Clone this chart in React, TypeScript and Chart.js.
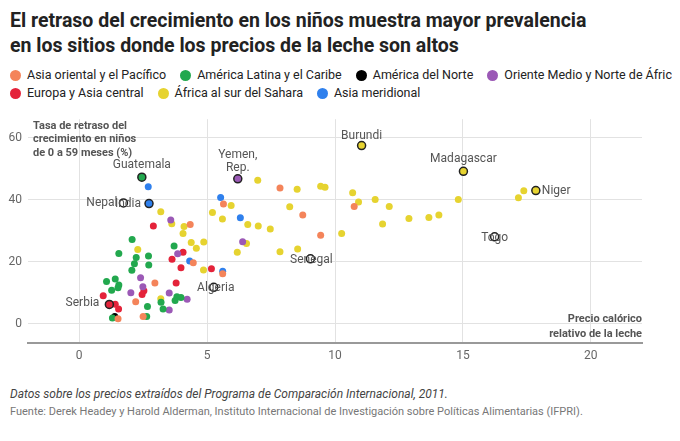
import React, { useEffect, useRef } from "react";
import { Chart, registerables } from "chart.js";
Chart.register(...registerables);

const FONT = "Roboto, 'Noto Sans', sans-serif";

const eastAsia = [[2.96,13.2],[4.46,19.7],[5.61,16.2],[4.34,32.1],[2.21,7.2],[2.5,2.4],[1.52,1.7],[7.85,43.8],[5.64,38.7],[8.74,35.1],[9.44,28.6],[10.75,37.9]];
const latinAmerica = [[2.07,27.2],[1.55,22.7],[2.23,21.4],[2.71,21.9],[2.16,19.4],[2.72,19.0],[2.06,17.3],[3.71,25.1],[1.07,13.7],[1.41,14.5],[1.55,12.6],[1.52,11.7],[1.27,10.9],[3.82,8.8],[3.98,8.5],[3.75,7.6],[3.2,7.0],[2.67,5.6],[3.28,4.8],[2.64,2.4],[1.3,1.9],[2.45,47.3]];
const northAmerica = [[1.39,2.4]];
const mena = [[3.58,33.5],[3.85,22.6],[2.4,14.9],[2.49,12.0],[2.02,10.1],[3.52,10.0],[4.22,8.0],[3.52,4.5],[6.39,26.5],[6.2,46.8]];
const europe = [[2.9,31.6],[4.06,23.1],[3.63,20.9],[3.98,18.1],[5.17,17.8],[3.79,13.2],[2.53,10.7],[2.46,9.5],[0.94,9.1],[1.41,6.4],[1.54,4.8],[1.18,6.3]];
const africa = [[3.19,36.2],[3.62,32.3],[4.1,31.4],[4.06,29.2],[2.29,24.0],[4.38,26.3],[4.87,26.4],[4.58,24.4],[4.86,17.4],[3.19,8.1],[6.98,46.3],[8.52,43.4],[5.94,38.2],[5.21,35.9],[5.6,33.8],[6.59,32.1],[7.0,31.6],[7.47,30.6],[8.23,37.8],[6.54,25.9],[6.18,23.1],[7.85,23.3],[8.54,24.2],[9.44,44.4],[9.61,44.1],[10.26,29.2],[10.69,42.3],[10.92,39.3],[11.57,40.1],[12.12,37.9],[11.86,32.2],[12.89,34.0],[13.67,34.3],[14.06,35.1],[14.82,40.1],[17.17,40.7],[17.38,42.9],[11.04,57.5],[15.02,49.2],[17.85,43.0]];
const southAsia = [[2.7,44.2],[4.32,20.3],[5.61,17.0],[5.53,40.8],[6.3,34.2],[2.73,38.8]];
const unassigned = [[1.73,39.0],[5.26,11.8],[9.04,21.0],[16.24,28.1]];

const regionNames = ["Asia oriental y el Pacífico","América Latina y el Caribe","América del Norte","Oriente Medio y Norte de África","Europa y Asia central","África al sur del Sahara","Asia meridional"];
const regionColors = ["#f4845a","#22a84e","#000000","#9b59b6","#e4233a","#e6d330","#2f80ed"];
const regionData = [eastAsia, latinAmerica, northAmerica, mena, europe, africa, southAsia];

const labels: [string, number, number, number, number, CanvasTextAlign][] = [
  ["Guatemala", 2.45, 47.3, 0, -12, "center"],
  ["Nepal", 1.73, 39.0, 0, 0, "right"],
  ["India", 2.73, 38.8, -2, 0, "right"],
  ["Yemen,", 6.2, 46.8, 0, -24, "center"],
  ["Rep.", 6.2, 46.8, 0, -11, "center"],
  ["Burundi", 11.04, 57.5, 0, -10, "center"],
  ["Madagascar", 15.02, 49.2, 0, -12, "center"],
  ["Niger", 17.85, 43.0, 6, 0, "left"],
  ["Togo", 16.24, 28.1, 0, 1, "center"],
  ["Senegal", 9.04, 21.0, 1, 1, "center"],
  ["Algeria", 5.26, 11.8, 2, 1, "center"],
  ["Serbia", 1.18, 6.3, -4, -1, "right"],
];
const labeledPts = labels.map((l) => l[1] + "," + l[2]);

const xTicks = [0, 5, 10, 15, 20];
const yTicks = [0, 20, 40, 60];

const annot = {
  id: "annot",
  afterDatasetsDraw(chart: any) {
    const { ctx, scales } = chart;
    const xs = scales.x, ys = scales.y;
    ctx.save();
    ctx.font = `12px ${FONT}`;
    ctx.fillStyle = "#555";
    ctx.textBaseline = "middle";
    for (const [t, x, y, dx, dy, al] of labels) {
      ctx.textAlign = al;
      let px = xs.getPixelForValue(x), py = ys.getPixelForValue(y);
      if (al === "right") px -= 6;
      ctx.fillText(t, px + dx, py + dy);
    }
    ctx.font = `bold 11px ${FONT}`;
    ctx.textAlign = "left";
    const left = chart.chartArea.left + 5;
    ["Tasa de retraso del", "crecimiento en niños", "de 0 a 59 meses (%)"].forEach((s, i) => ctx.fillText(s, left, chart.chartArea.top + 7 + i * 13.5));
    ctx.textAlign = "right";
    const right = chart.chartArea.right;
    ["Precio calórico", "relativo de la leche"].forEach((s, i) => ctx.fillText(s, right, chart.chartArea.bottom - 23 + i * 15));
    ctx.restore();
  },
};

export default function App() {
  const ref = useRef<HTMLCanvasElement>(null);
  useEffect(() => {
    const pt = (d: number[][]) => d.map(([x, y]) => ({ x, y }));
    const isLab = (c: any) => c.raw && labeledPts.includes(c.raw.x + "," + c.raw.y);
    const datasets: any[] = regionData.map((d, i) => ({
      label: regionNames[i],
      data: pt(d),
      backgroundColor: regionColors[i],
      borderColor: (c: any) => (isLab(c) ? "#222" : regionColors[i]),
      borderWidth: (c: any) => (isLab(c) ? 1.5 : 0),
      pointRadius: (c: any) => (isLab(c) ? 4 : 3.5),
    }));
    datasets.push({ label: "otro", data: pt(unassigned), backgroundColor: "#fff", borderColor: "#222", borderWidth: 1.5, pointRadius: 4 });
    const chart = new Chart(ref.current!, {
      type: "scatter",
      data: { datasets },
      options: {
        animation: false,
        responsive: false,
        layout: { padding: { top: 13, right: 30, left: 0, bottom: 0 } },
        plugins: { legend: { display: false }, tooltip: { enabled: false } },
        scales: {
          x: {
            min: -2, max: 22,
            afterBuildTicks: (s: any) => { s.ticks = xTicks.map((v) => ({ value: v })); },
            grid: { color: "#e2e2e2", drawTicks: false },
            border: { color: "#999", width: 2 },
            ticks: { color: "#666", font: { family: FONT, size: 12 }, padding: 6 },
          },
          y: {
            min: -6, max: 66,
            afterBuildTicks: (s: any) => { s.ticks = yTicks.map((v) => ({ value: v })); },
            afterFit: (s: any) => { s.width = 20; },
            grid: { color: "#e2e2e2", drawTicks: false },
            border: { display: false },
            ticks: { color: "#666", font: { family: FONT, size: 12 }, padding: 6 },
          },
        },
      },
      plugins: [annot],
    });
    return () => chart.destroy();
  }, []);

  const legendRows = [[0, 1, 2, 3], [4, 5, 6]];
  return (
    <div style={{ fontFamily: FONT, width: 664, color: "#222" }}>
      <div style={{ fontWeight: 700, fontSize: 19.5, lineHeight: "25px", paddingLeft: 2, whiteSpace: "nowrap" }}>
        El retraso del crecimiento en los niños muestra mayor prevalencia
        <br />
        en los sitios donde los precios de la leche son altos
      </div>
      <div style={{ marginTop: 8, fontSize: 12.5, lineHeight: "18px", whiteSpace: "nowrap" }}>
        {legendRows.map((r, ri) => (
          <div key={ri} style={{ display: "flex" }}>
            {r.map((i) => (
              <span key={i} style={{ display: "inline-flex", alignItems: "center", marginRight: 12, paddingLeft: 2 }}>
                <span style={{ width: 11, height: 11, borderRadius: "50%", background: regionColors[i], marginRight: 6, display: "inline-block" }} />
                {regionNames[i]}
              </span>
            ))}
          </div>
        ))}
      </div>
      <canvas ref={ref} width={664} height={263} style={{ display: "block", marginTop: 4 }} />
      <div style={{ marginTop: 18, fontStyle: "italic", fontSize: 12, color: "#444", paddingLeft: 2 }}>
        Datos sobre los precios extraídos del Programa de Comparación Internacional, 2011.
      </div>
      <div style={{ marginTop: 4, fontSize: 11, color: "#777", paddingLeft: 2 }}>
        Fuente: Derek Headey y Harold Alderman, Instituto Internacional de Investigación sobre Políticas Alimentarias (IFPRI).
      </div>
    </div>
  );
}
